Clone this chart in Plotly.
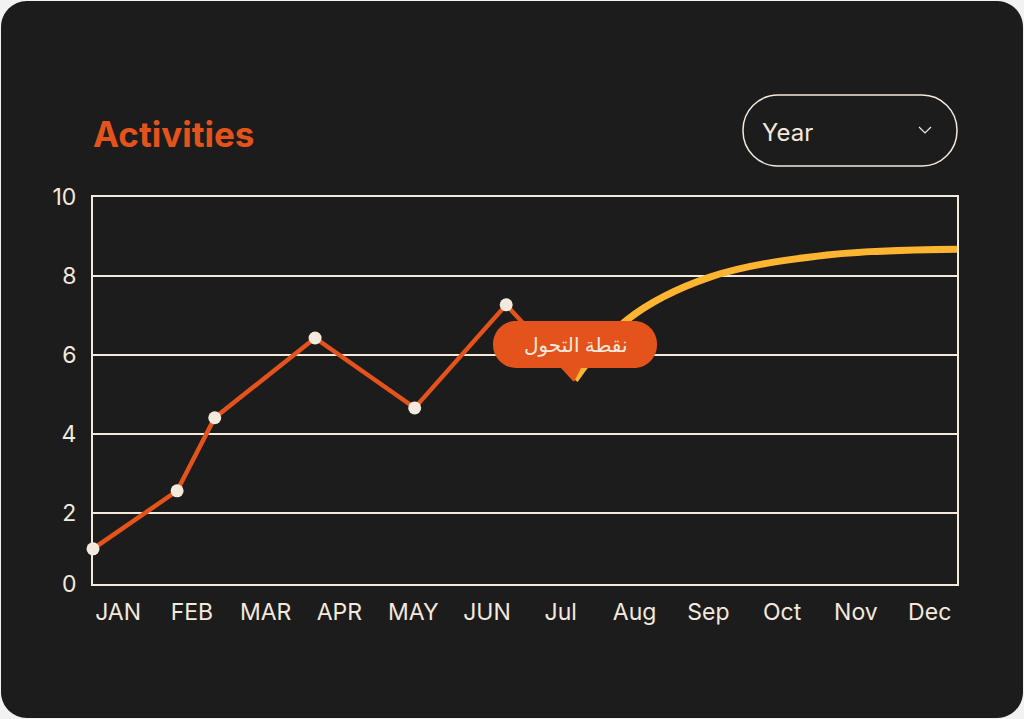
import plotly.graph_objects as go

# 数据
months = ["JAN", "FEB", "MAR", "APR", "MAY", "JUN", "Jul", "Aug", "Sep", "Oct", "Nov", "Dec"]
month_pos = list(range(12))
y_ticks = [0.2, 2, 4, 6, 8, 10]
y_tick_text = ["0", "2", "4", "6", "8", "10"]

actual_x = [-0.34, 0.80, 1.31, 2.67, 4.02, 5.26, 6.19]
actual_y = [1.09, 2.56, 4.41, 6.43, 4.66, 7.27, 5.37]

trend_x = [6.19, 6.90, 8.02, 9.61, 11.37]
trend_y = [5.37, 6.89, 7.97, 8.53, 8.68]

ORANGE = "#E4531B"
YELLOW = "#FDB431"
CREAM = "#F3E9DC"
CARD = "#1C1C1C"
FONT = "Inter, Lato, sans-serif"

# 画布尺寸 / 绘图区像素位置
W_PX, H_PX = 1024, 719
L, R, T, B = 93, 957, 197, 584


def px(x):
    return (x - L) / (R - L)


def py(y):
    return (B - y) / (B - T)


def rounded_rect(x0, y0, x1, y1, r):
    # 像素坐标 -> paper 坐标的圆角矩形路径
    k = 0.552 * r
    pts = [
        ("M", [(x0 + r, y0)]),
        ("L", [(x1 - r, y0)]),
        ("C", [(x1 - r + k, y0), (x1, y0 + r - k), (x1, y0 + r)]),
        ("L", [(x1, y1 - r)]),
        ("C", [(x1, y1 - r + k), (x1 - r + k, y1), (x1 - r, y1)]),
        ("L", [(x0 + r, y1)]),
        ("C", [(x0 + r - k, y1), (x0, y1 - r + k), (x0, y1 - r)]),
        ("L", [(x0, y0 + r)]),
        ("C", [(x0, y0 + r - k), (x0 + r - k, y0), (x0 + r, y0)]),
    ]
    out = ""
    for cmd, ps in pts:
        out += cmd + " ".join(f"{px(a):.5f},{py(b):.5f}" for a, b in ps) + " "
    return out + "Z"


fig = go.Figure()

fig.add_trace(go.Scatter(
    x=actual_x, y=actual_y, mode="lines",
    line=dict(color=ORANGE, width=4.5), hoverinfo="skip", showlegend=False,
))
fig.add_trace(go.Scatter(
    x=trend_x, y=trend_y, mode="lines",
    line=dict(color=YELLOW, width=7, shape="spline", smoothing=1.0),
    hoverinfo="skip", showlegend=False,
))
fig.add_trace(go.Scatter(
    x=actual_x[:-1], y=actual_y[:-1], mode="markers",
    marker=dict(color=CREAM, size=13), cliponaxis=False,
    hoverinfo="skip", showlegend=False,
))

shapes = [
    # 卡片背景
    dict(type="path", xref="paper", yref="paper", layer="below",
         path=rounded_rect(1, 1, W_PX - 1, H_PX - 1, 26),
         fillcolor=CARD, line=dict(width=0)),
    # 下拉框
    dict(type="path", xref="paper", yref="paper", layer="above",
         path=rounded_rect(743, 95, 957, 166, 35),
         fillcolor="rgba(0,0,0,0)", line=dict(color=CREAM, width=1.5)),
    dict(type="path", xref="paper", yref="paper", layer="above",
         path=f"M{px(919):.5f},{py(127):.5f} L{px(925):.5f},{py(133):.5f} L{px(931):.5f},{py(127):.5f}",
         line=dict(color=CREAM, width=1.2)),
    # 提示气泡
    dict(type="path", xref="paper", yref="paper", layer="above",
         path=rounded_rect(493, 321, 657, 368, 23),
         fillcolor=ORANGE, line=dict(width=0)),
    dict(type="path", xref="paper", yref="paper", layer="above",
         path=f"M{px(566):.5f},{py(366):.5f} L{px(582):.5f},{py(366):.5f} L{px(574):.5f},{py(382):.5f} Z",
         fillcolor=ORANGE, line=dict(width=0)),
]

annotations = [
    dict(text="<b>Activities</b>", xref="paper", yref="paper", x=px(91), y=py(134),
         xanchor="left", yanchor="middle", showarrow=False,
         font=dict(family=FONT, size=35, color=ORANGE)),
    dict(text="Year", xref="paper", yref="paper", x=px(760), y=py(132),
         xanchor="left", yanchor="middle", showarrow=False,
         font=dict(family=FONT, size=24, color=CREAM)),
    dict(text="نقطة التحول", xref="paper", yref="paper", x=px(575), y=py(344),
         xanchor="center", yanchor="middle", showarrow=False,
         font=dict(family="Noto Sans, DejaVu Sans, sans-serif", size=20, color=CREAM)),
]

fig.update_layout(
    width=W_PX, height=H_PX,
    margin=dict(l=L, r=W_PX - R, t=T, b=H_PX - B),
    paper_bgcolor="#F2F2F2", plot_bgcolor="rgba(0,0,0,0)",
    shapes=shapes, annotations=annotations,
    font=dict(family=FONT, color=CREAM),
    xaxis=dict(
        range=[-0.34, 11.37], tickvals=month_pos, ticktext=months,
        showgrid=False, zeroline=False, showline=True, mirror=True,
        linecolor=CREAM, linewidth=2, ticks="", ticklabelstandoff=6,
        tickfont=dict(size=23, color=CREAM),
    ),
    yaxis=dict(
        range=[0.2, 10], tickvals=y_ticks, ticktext=y_tick_text,
        showgrid=True, gridcolor=CREAM, gridwidth=2, zeroline=False,
        showline=True, mirror=True, linecolor=CREAM, linewidth=2,
        ticks="", ticklabelstandoff=10, tickfont=dict(size=23, color=CREAM),
    ),
)

# 去掉页面默认边距，让图贴齐窗口
fig.write_html("out.html", config={"displayModeBar": False},
               post_script="document.body.style.margin='0';")
